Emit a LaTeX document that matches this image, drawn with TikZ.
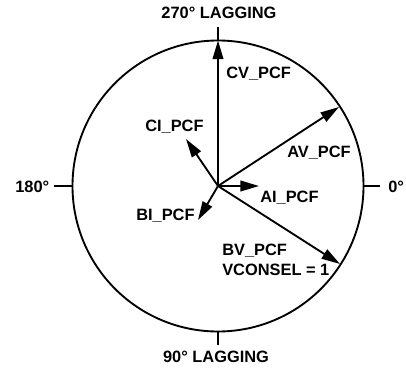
\documentclass[tikz,border=0pt]{standalone}
\usepackage{fontspec}
\setmainfont{Liberation Sans}
\usetikzlibrary{arrows.meta}
\tikzset{
  lbl/.style={inner sep=0pt, anchor=base west, font=\fontsize{12.3}{14}\selectfont\bfseries},
  vec/.style={line width=1.4pt, -{Triangle[length=14pt,width=8pt]}},
  ln/.style={line width=1.4pt}
}
\begin{document}
\begin{tikzpicture}[x=0.75pt,y=-0.75pt]
\useasboundingbox (0,0) rectangle (406,367);
\coordinate (O) at (218,186);
\draw[ln] (O) circle[radius=145.5];
% ticks
\coordinate (t1) at (218,40.5); \coordinate (t1o) at (218,27);
\coordinate (t2) at (218,331.5); \coordinate (t2o) at (218,345);
\coordinate (t3) at (72.5,186); \coordinate (t3o) at (54,186);
\coordinate (t4) at (363.5,186); \coordinate (t4o) at (380,186);
\draw[ln] (t1) -- (t1o);
\draw[ln] (t2) -- (t2o);
\draw[ln] (t3) -- (t3o);
\draw[ln] (t4) -- (t4o);
% vectors
\coordinate (CV) at (218,40.5);
\coordinate (AV) at (339,107);
\coordinate (BV) at (340,264);
\coordinate (AI) at (259,186);
\coordinate (CI) at (186,139);
\coordinate (BI) at (198,220);
\draw[vec] (O) -- (CV);
\draw[vec] (O) -- (AV);
\draw[vec] (O) -- (BV);
\draw[vec] (O) -- (AI);
\draw[vec] (O) -- (CI);
\draw[vec] (O) -- (BI);
% labels
\node[lbl, anchor=base] (l270) at (219,19) {270° LAGGING};
\node[lbl, anchor=base] (l90) at (216,362) {90° LAGGING};
\node[lbl] (l180) at (15,192) {180°};
\node[lbl] (l0) at (388,192) {0°};
\node[lbl] (lcv) at (226,78.5) {CV\_PCF};
\node[lbl] (lci) at (145,132) {CI\_PCF};
\node[lbl] (lav) at (287,157.5) {AV\_PCF};
\node[lbl] (lai) at (260,202.5) {AI\_PCF};
\node[lbl] (lbi) at (136,220.5) {BI\_PCF};
\node[lbl] (lbv) at (222,255) {BV\_PCF};
\node[lbl] (lvc) at (222,275) {VCONSEL = 1};
\end{tikzpicture}
\end{document}
